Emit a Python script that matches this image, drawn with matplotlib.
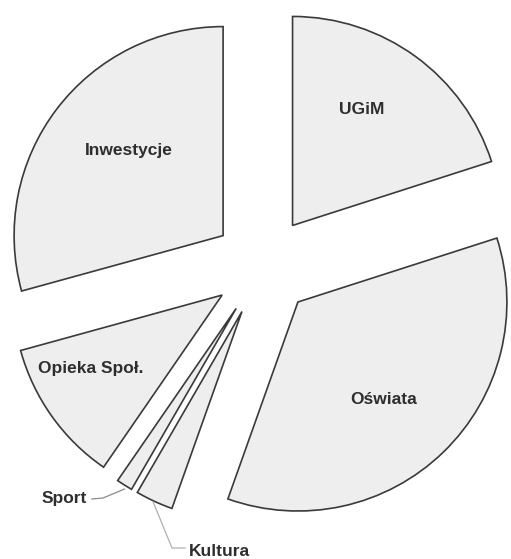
import numpy as np
import matplotlib
matplotlib.use("Agg")
import matplotlib.pyplot as plt

# Data (clockwise from 12 o'clock), values in percent
categories = ["UGiM", "Oświata", "Kultura", "Sport", "Opieka Społ.", "Inwestycje"]
values = [20.0, 35.3, 2.9, 1.25, 11.1, 29.2]

W, H = 511, 559
fig = plt.figure(figsize=(W / 100, H / 100), dpi=100)
ax = fig.add_axes([0, 0, 1, 1])

cx, cy, R = 263, H - 266, 209
# matplotlib's explode offset is in data units, so scale by radius
explode = [0.24 * R] * len(values)

wedges, _ = ax.pie(values, explode=explode, startangle=90, counterclock=False,
                   center=(cx, cy), radius=R, frame=True,
                   colors=["#eeeeee"] * len(values),
                   wedgeprops=dict(edgecolor="#3a3a3a", linewidth=1.2))
ax.set_xlim(0, W)
ax.set_ylim(0, H)
ax.set_aspect("equal")
ax.axis("off")

font = dict(family="Liberation Sans", weight="bold", fontsize=12.5, color="#2e2e2e")

# Inside labels (text positions)
inside = {"Inwestycje": (129, H - 151), "UGiM": (362, H - 109),
          "Oświata": (384, H - 400), "Opieka Społ.": (91, H - 368)}
for name, (x, y) in inside.items():
    ax.text(x, y, name, ha="center", va="center", **font)


def tip(w, frac=1.0):
    th = np.deg2rad((w.theta1 + w.theta2) / 2)
    c = w.center
    return c[0] + w.r * frac * np.cos(th), c[1] + w.r * frac * np.sin(th)


# Sport leader
ws = wedges[categories.index("Sport")]
sx, sy = tip(ws)
ax.text(64, H - 499, "Sport", ha="center", va="center", **font)
ax.plot([92, 103, sx], [H - 499, H - 498, sy - 4], color="#8a8a8a", lw=0.9)

# Kultura leader
wk = wedges[categories.index("Kultura")]
kx, ky = tip(wk)
ax.text(219, H - 551, "Kultura", ha="center", va="center", **font)
ax.plot([kx - 1, 172, 185], [ky - 1, H - 548, H - 548], color="#b0b0b0", lw=0.9)

fig.savefig("out.png", dpi=100)
